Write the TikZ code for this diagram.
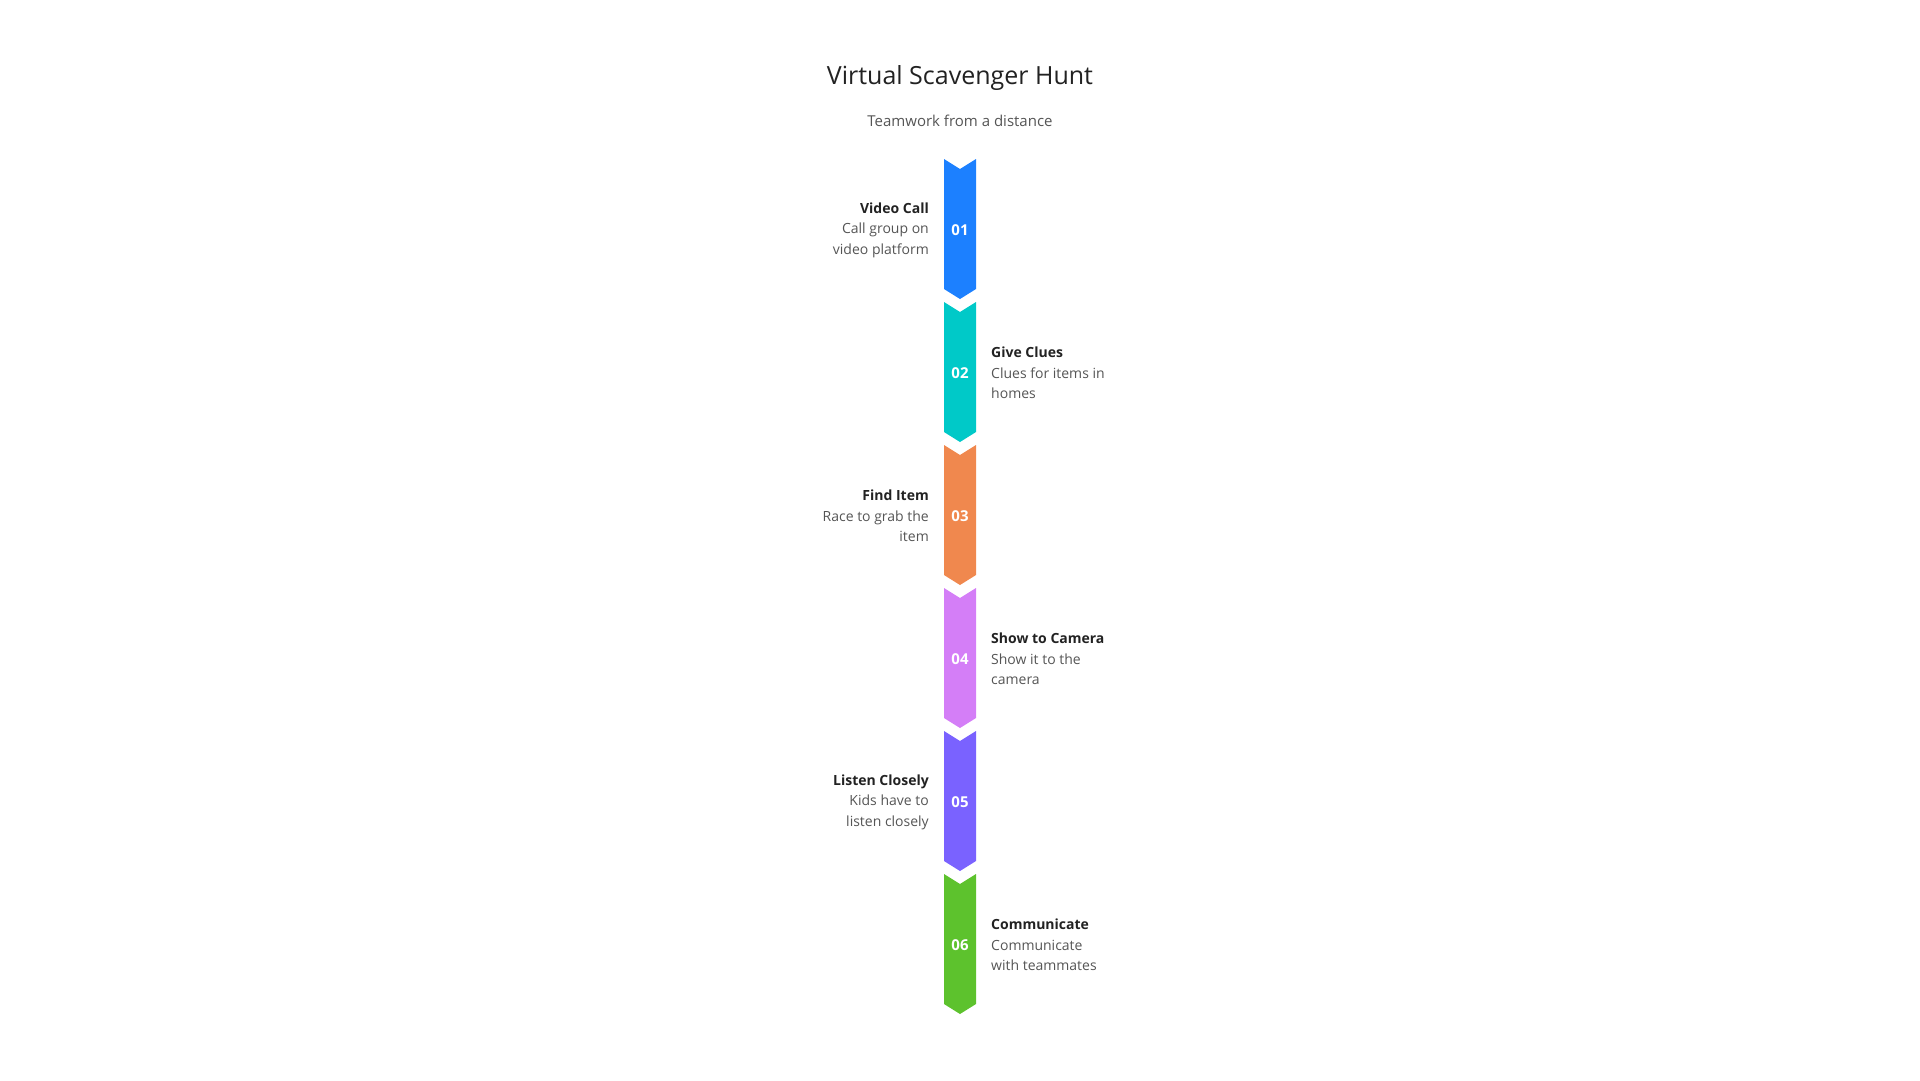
\documentclass[tikz,border=0pt]{standalone}
\usepackage{fontspec}
\setmainfont{Open Sans}
\definecolor{c1}{HTML}{1C80FF}
\definecolor{c2}{HTML}{00C9C8}
\definecolor{c3}{HTML}{F0884E}
\definecolor{c4}{HTML}{D47EF7}
\definecolor{c5}{HTML}{7A62FF}
\definecolor{c6}{HTML}{5DC22D}
\definecolor{tdark}{HTML}{222222}
\definecolor{tgray}{HTML}{555555}
\begin{document}
\begin{tikzpicture}[x=1pt,y=-1pt,
  num/.style={text=white,font=\bfseries\fontsize{15}{18}\selectfont},
  lefttxt/.style={anchor=east,align=right,font=\fontsize{14}{20.5}\selectfont,text=tgray,inner sep=0},
  righttxt/.style={anchor=west,align=left,font=\fontsize{14}{20.5}\selectfont,text=tgray,inner sep=0}]
\useasboundingbox (0,0) rectangle (1920,1080);
\node[font=\fontsize{25}{30}\selectfont,text=tdark] (title) at (960,78) {Virtual Scavenger Hunt};
\node[font=\fontsize{15}{18}\selectfont,text=tgray] (sub) at (960,121) {Teamwork from a distance};
\foreach \i/\c/\n in {0/c1/01,1/c2/02,2/c3/03,3/c4/04,4/c5/05,5/c6/06}{
  \pgfmathsetmacro{\yy}{159+143*\i}
  \fill[\c] (944,\yy) -- (960,\yy+10) -- (976,\yy) -- (976,\yy+130) -- (960,\yy+140) -- (944,\yy+130) -- cycle;
  \node[num] (n\n) at (960,\yy+71) {\n};
}
\node[lefttxt] (t1) at (929,230) {{\color{tdark}\bfseries Video Call}\\Call group on\\video platform};
\node[righttxt] (t2) at (991,373) {{\color{tdark}\bfseries Give Clues}\\Clues for items in\\homes};
\node[lefttxt] (t3) at (929,516) {{\color{tdark}\bfseries Find Item}\\Race to grab the\\item};
\node[righttxt] (t4) at (991,659) {{\color{tdark}\bfseries Show to Camera}\\Show it to the\\camera};
\node[lefttxt] (t5) at (929,802) {{\color{tdark}\bfseries Listen Closely}\\Kids have to\\listen closely};
\node[righttxt] (t6) at (991,945) {{\color{tdark}\bfseries Communicate}\\Communicate\\with teammates};
\end{tikzpicture}
\end{document}
